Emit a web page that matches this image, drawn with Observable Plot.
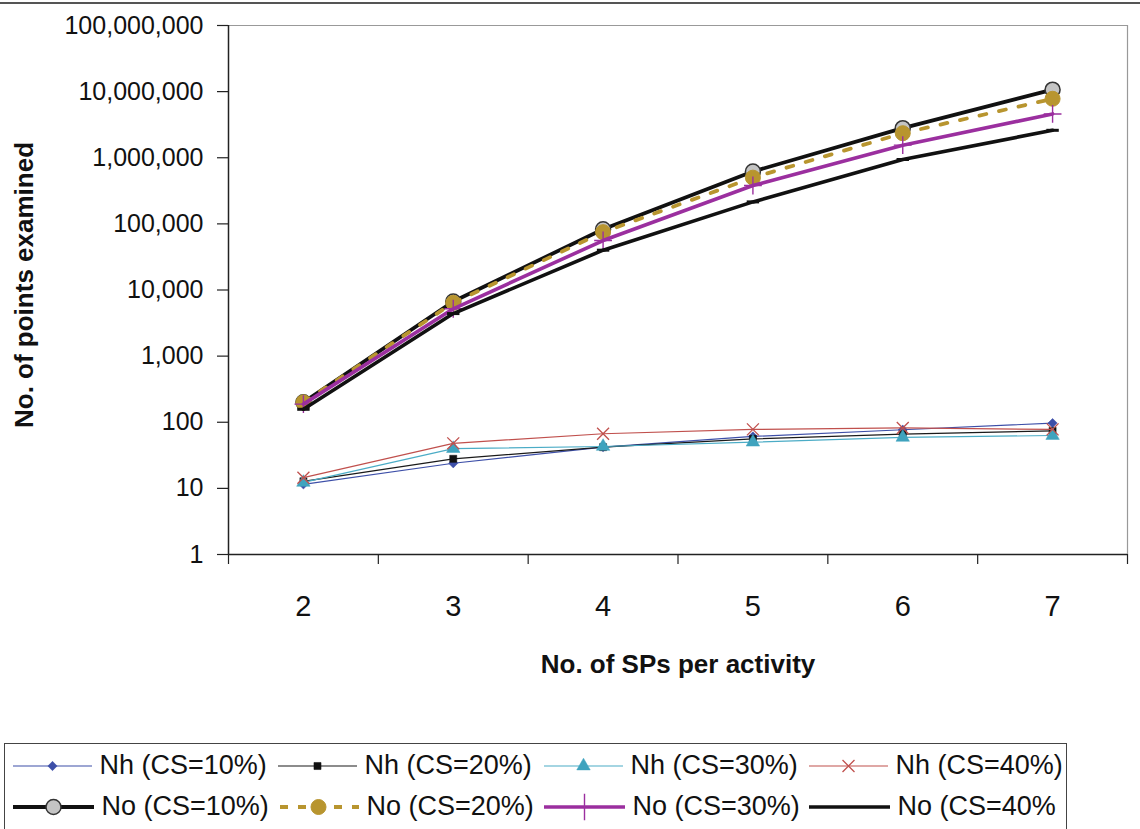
<!DOCTYPE html>
<html><head><meta charset="utf-8">
<script src="https://cdn.jsdelivr.net/npm/d3@7"></script>
<script src="https://cdn.jsdelivr.net/npm/@observablehq/plot@0.6"></script>
<style>
html,body{margin:0;padding:0;background:#fff;overflow:hidden;}
#wrap{position:relative;width:1140px;height:829px;font-family:"Liberation Sans",Arial,sans-serif;color:#111;overflow:hidden;}
#topline{position:absolute;left:0;top:2px;width:1140px;height:2px;background:#555;}
#chart{position:absolute;left:0;top:0;}
#ytitle{position:absolute;left:23.5px;top:284.5px;transform:translate(-50%,-50%) rotate(-90deg);font-size:26px;font-weight:bold;white-space:nowrap;color:#111;line-height:1;}
#legend{position:absolute;left:4px;top:743px;width:1063px;height:110px;border:1.5px solid #444;box-sizing:border-box;background:#fff;}
.item{position:absolute;display:flex;align-items:center;height:40px;}
.item span{font-size:27px;margin-left:8px;white-space:nowrap;color:#111;}
.item svg{display:block;}
</style></head><body>
<div id="wrap"><div id="chart"></div><div id="topline"></div><div id="ytitle"></div><div id="legend"></div></div>
<script>
// ---- data ----
const xCats = [2, 3, 4, 5, 6, 7];
const xEdges = [1.5, 2.5, 3.5, 4.5, 5.5, 6.5, 7.5];
const yTicks = [1, 10, 100, 1000, 10000, 100000, 1000000, 10000000, 100000000];
const seriesNames = ["Nh (CS=10%)", "Nh (CS=20%)", "Nh (CS=30%)", "Nh (CS=40%)",
                     "No (CS=10%)", "No (CS=20%)", "No (CS=30%)", "No (CS=40%"];
const nh10 = [11.5, 24, 42, 61, 77, 97];
const nh20 = [12.8, 28, 42, 56, 66, 74];
const nh30 = [12.3, 40, 43, 50, 59, 63];
const nh40 = [14.5, 48, 67, 78, 82, 78];
const no10 = [200, 6700, 83000, 620000, 2800000, 10700000];
const no20 = [200, 6400, 75000, 500000, 2350000, 7800000];
const no30 = [188, 5200, 56000, 380000, 1550000, 4600000];
const no40 = [157, 4400, 40000, 215000, 940000, 2600000];
const seriesValues = [nh10, nh20, nh30, nh40, no10, no20, no30, no40];
const xTitle = "No. of SPs per activity";
const yTitle = "No. of points examined";

// ---- styles ----
const dashSymbol = {draw(ctx, size) { const w = Math.sqrt(size) / 2; ctx.moveTo(-w, 0); ctx.lineTo(w, 0); }};
const styles = [
  {stroke: "#3D4FA8", sw: 1.2, symbol: "diamond2", r: 4.2, fill: "#3D4FA8", mstroke: "#3D4FA8", msw: 0.5},
  {stroke: "#1a1a1a", sw: 1.2, symbol: "square", r: 4, fill: "#111", mstroke: "#111", msw: 0.5},
  {stroke: "#4BACC6", sw: 1.2, symbol: "triangle", r: 5, fill: "#3FA3BE", mstroke: "#3FA3BE", msw: 0.5},
  {stroke: "#C0504D", sw: 1.2, symbol: "times", r: 5.5, fill: "none", mstroke: "#C0504D", msw: 1.3},
  {stroke: "#111", sw: 3.8, symbol: "circle", r: 7.5, fill: "#C4C4C4", mstroke: "#333", msw: 1.5},
  {stroke: "#B8952F", sw: 3.8, dash: "7,13", symbol: "circle", r: 7.5, fill: "#B8952F", mstroke: "#B8952F", msw: 1},
  {stroke: "#9B2F9F", sw: 3.6, symbol: "plus", r: 5.8, fill: "none", mstroke: "#9B2F9F", msw: 1.4},
  {stroke: "#111", sw: 3.6, symbol: dashSymbol, r: 7, fill: "none", mstroke: "#111", msw: 3}
];

const rows = [];
seriesNames.forEach((name, s) => seriesValues[s].forEach((v, i) => rows.push({series: name, x: xCats[i], y: v})));

const seriesMarks = [];
seriesNames.forEach((name, s) => {
  const st = styles[s];
  const d = rows.filter(r => r.series === name);
  seriesMarks.push(Plot.line(d, {x: "x", y: "y", stroke: st.stroke, strokeWidth: st.sw, strokeDasharray: st.dash}));
  seriesMarks.push(Plot.dot(d, {x: "x", y: "y", symbol: st.symbol, r: st.r, fill: st.fill, stroke: st.mstroke, strokeWidth: st.msw}));
});

const chart = Plot.plot({
  width: 1140, height: 740,
  marginLeft: 228, marginRight: 13, marginTop: 25, marginBottom: 186,
  style: {fontFamily: '"Liberation Sans", Arial, sans-serif', background: "transparent", color: "#111"},
  x: {domain: [1.5, 7.5]},
  y: {type: "log", domain: [1, 1e8]},
  marks: [
    Plot.ruleY([1e8], {stroke: "#999", strokeWidth: 1.2}),
    Plot.ruleX([7.5], {stroke: "#999", strokeWidth: 1.2}),
    Plot.axisY({ticks: yTicks, tickFormat: d3.format(","), tickSize: 11, tickPadding: 14, fontSize: 25, label: null, stroke: "#222", strokeWidth: 1.2}),
    Plot.axisX({ticks: xEdges, tickFormat: () => "", tickSize: 10, label: null, stroke: "#222", strokeWidth: 1.2}),
    Plot.axisX({ticks: xCats, tickFormat: d => String(d), tickSize: 0, tickPadding: 41, fontSize: 29, label: null}),
    Plot.ruleX([1.5], {stroke: "#222", strokeWidth: 1.5}),
    Plot.ruleY([1], {stroke: "#222", strokeWidth: 1.5}),
    ...seriesMarks,
    Plot.text([xTitle], {text: d => d, frameAnchor: "bottom", lineAnchor: "top", dy: 100, fontSize: 26, fontWeight: "bold", fill: "#111"})
  ]
});
document.getElementById("chart").appendChild(chart);
document.getElementById("ytitle").textContent = yTitle;

// ---- legend ----
const legend = document.getElementById("legend");
const lefts = [7.5, 272.5, 538.5, 803.5];
const tops = [1.5, 42.5];
function symPath(sym, r) {
  const map = {diamond2: d3.symbolDiamond2, square: d3.symbolSquare, triangle: d3.symbolTriangle,
               times: d3.symbolTimes, circle: d3.symbolCircle, plus: d3.symbolPlus};
  return d3.symbol(map[sym], Math.PI * r * r)();
}
seriesNames.forEach((name, s) => {
  const st = styles[s];
  const div = document.createElement("div");
  div.className = "item";
  div.style.left = lefts[s % 4] + "px";
  div.style.top = tops[Math.floor(s / 4)] + "px";
  const w = s >= 4 ? 81 : 79;
  let svg = `<svg width="${w}" height="30"><line x1="0" x2="${w}" y1="15" y2="15" stroke="${st.stroke}" stroke-width="${st.sw}" ${st.dash ? `stroke-dasharray="8,10" stroke-dashoffset="-2"` : ""}/>`;
  if (typeof st.symbol === "string") {
    const rr = st.symbol === "plus" ? 8.5 : st.r;
    svg += `<path transform="translate(${w / 2},15)" d="${symPath(st.symbol, rr)}" fill="${st.fill}" stroke="${st.mstroke}" stroke-width="${st.msw}"/>`;
  }
  svg += `</svg>`;
  div.innerHTML = svg + `<span>${name}</span>`;
  legend.appendChild(div);
});
</script></body></html>
